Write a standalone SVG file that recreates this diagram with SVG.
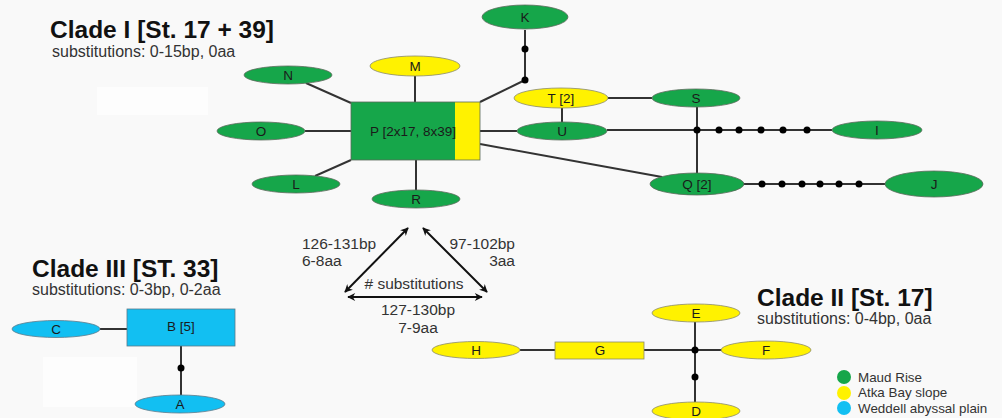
<svg xmlns="http://www.w3.org/2000/svg" width="1002" height="418" viewBox="0 0 1002 418">
<defs>
<style>
.g{fill:#16a64a;stroke:#5a6a5a;stroke-width:0.8}
.y{fill:#fff200;stroke:#8a8a6a;stroke-width:0.8}
.b{fill:#12bff2;stroke:#5a7a8a;stroke-width:0.8}
.e{stroke:#333;stroke-width:2;fill:none}
.a{stroke:#111;stroke-width:2;fill:none;marker-start:url(#ah);marker-end:url(#ah)}
.d{fill:#000}
text{font-family:"Liberation Sans",Arial,sans-serif;fill:#222}
.t{font-size:24.5px;font-weight:bold;fill:#111}
.s{font-size:16px;fill:#333}
.n{font-size:13.5px;text-anchor:middle;fill:#1a1a1a}
.l{font-size:15.5px;fill:#333}
.m{text-anchor:middle}
.r{text-anchor:end}
.lg{font-size:13.4px;fill:#333}
</style>
<marker id="ah" viewBox="0 0 10 10" refX="9" refY="5" markerWidth="10" markerHeight="8" orient="auto-start-reverse" markerUnits="userSpaceOnUse">
<path d="M0,0 L10,5 L0,10 L3,5 z" fill="#111"/>
</marker>
</defs>
<rect x="0" y="0" width="1002" height="418" fill="#f9f9f9"/>
<rect x="97" y="87" width="111" height="28" fill="#fdfdfd"/>
<rect x="43" y="357" width="94" height="50" fill="#fdfdfd"/>

<text class="t" x="50" y="38">Clade I [St. 17 + 39]</text>
<text class="s" x="52" y="57">substitutions: 0-15bp, 0aa</text>
<text class="t" x="32" y="277">Clade III [ST. 33]</text>
<text class="s" x="32" y="295">substitutions: 0-3bp, 0-2aa</text>
<text class="t" x="757" y="306">Clade II [St. 17]</text>
<text class="s" x="757" y="324">substitutions: 0-4bp, 0aa</text>

<g id="connectors">
<line class="e" x1="525" y1="30" x2="525" y2="80"/>
<line class="e" x1="525" y1="80" x2="480" y2="102"/>
<line class="e" x1="415" y1="76" x2="415" y2="102"/>
<line class="e" x1="306" y1="83" x2="351" y2="103"/>
<line class="e" x1="305" y1="131" x2="351" y2="131"/>
<line class="e" x1="315" y1="176" x2="351" y2="160"/>
<line class="e" x1="416" y1="160" x2="416" y2="190"/>
<line class="e" x1="480" y1="131" x2="517" y2="131"/>
<line class="e" x1="480" y1="144" x2="662" y2="177"/>
<line class="e" x1="608" y1="98" x2="652" y2="98"/>
<line class="e" x1="562" y1="108" x2="562" y2="122"/>
<line class="e" x1="607" y1="130" x2="832" y2="130"/>
<line class="e" x1="697" y1="107" x2="697" y2="173"/>
<line class="e" x1="743" y1="184" x2="885" y2="184"/>
<line class="e" x1="100" y1="329" x2="127" y2="329"/>
<line class="e" x1="181" y1="346" x2="181" y2="395"/>
<line class="e" x1="520" y1="350" x2="555" y2="350"/>
<line class="e" x1="644" y1="350" x2="722" y2="350"/>
<line class="e" x1="695" y1="322" x2="695" y2="403"/>
<line class="a" x1="408" y1="228" x2="345" y2="292"/>
<line class="a" x1="423" y1="228" x2="487" y2="292"/>
<line class="a" x1="348" y1="297" x2="482" y2="297"/>
</g>

<g id="dots">
<circle class="d" cx="525" cy="49" r="3.5"/>
<circle class="d" cx="525" cy="80" r="3.5"/>
<circle class="d" cx="697" cy="130" r="3.5"/>
<circle class="d" cx="719" cy="130" r="3.5"/>
<circle class="d" cx="739" cy="130" r="3.5"/>
<circle class="d" cx="761" cy="130" r="3.5"/>
<circle class="d" cx="783" cy="130" r="3.5"/>
<circle class="d" cx="807" cy="130" r="3.5"/>
<circle class="d" cx="762" cy="184" r="3.5"/>
<circle class="d" cx="782" cy="184" r="3.5"/>
<circle class="d" cx="802" cy="184" r="3.5"/>
<circle class="d" cx="820" cy="184" r="3.5"/>
<circle class="d" cx="839" cy="184" r="3.5"/>
<circle class="d" cx="859" cy="184" r="3.5"/>
<circle class="d" cx="181" cy="368" r="3.5"/>
<circle class="d" cx="695" cy="350" r="3.5"/>
<circle class="d" cx="695" cy="377" r="3.5"/>
</g>

<g id="labels">
<text class="l" x="302" y="249">126-131bp</text>
<text class="l" x="302" y="266">6-8aa</text>
<text class="l r" x="515" y="249">97-102bp</text>
<text class="l r" x="515" y="266">3aa</text>
<text class="l m" x="414" y="289"># substitutions</text>
<text class="l m" x="418" y="315">127-130bp</text>
<text class="l m" x="418" y="333">7-9aa</text>
</g>

<g id="node-K"><ellipse class="g" cx="525" cy="17" rx="43" ry="12"/><text class="n" x="525" y="22">K</text></g>
<g id="node-M"><ellipse class="y" cx="415" cy="66" rx="45" ry="10"/><text class="n" x="415" y="71">M</text></g>
<g id="node-N"><ellipse class="g" cx="288" cy="75" rx="44" ry="9"/><text class="n" x="288" y="80">N</text></g>
<g id="node-P">
<rect x="351" y="102" width="104" height="58" fill="#16a64a"/>
<rect x="455" y="102" width="25" height="58" fill="#fff200"/>
<rect x="351" y="102" width="129" height="58" fill="none" stroke="#5a6a5a" stroke-width="0.8"/>
<text class="n" x="413" y="136">P [2x17, 8x39]</text>
</g>
<g id="node-O"><ellipse class="g" cx="261" cy="131" rx="44" ry="9"/><text class="n" x="261" y="136">O</text></g>
<g id="node-L"><ellipse class="g" cx="296" cy="184" rx="44" ry="9"/><text class="n" x="296" y="189">L</text></g>
<g id="node-R"><ellipse class="g" cx="416" cy="199" rx="44" ry="9"/><text class="n" x="416" y="204">R</text></g>
<g id="node-T"><ellipse class="y" cx="561" cy="98" rx="47" ry="10"/><text class="n" x="561" y="103">T [2]</text></g>
<g id="node-S"><ellipse class="g" cx="696" cy="98" rx="44" ry="9"/><text class="n" x="696" y="103">S</text></g>
<g id="node-U"><ellipse class="g" cx="562" cy="131" rx="45" ry="9"/><text class="n" x="562" y="136">U</text></g>
<g id="node-I"><ellipse class="g" cx="877" cy="130" rx="45" ry="9"/><text class="n" x="877" y="135">I</text></g>
<g id="node-Q"><ellipse class="g" cx="697" cy="184" rx="47" ry="11"/><text class="n" x="697" y="189">Q [2]</text></g>
<g id="node-J"><ellipse class="g" cx="934" cy="184" rx="49" ry="13"/><text class="n" x="934" y="189">J</text></g>

<g id="node-B"><rect class="b" x="127" y="309" width="108" height="37"/><text class="n" x="181" y="331">B [5]</text></g>
<g id="node-C"><ellipse class="b" cx="56" cy="329" rx="44" ry="8.5"/><text class="n" x="56" y="334">C</text></g>
<g id="node-A"><ellipse class="b" cx="180" cy="404" rx="45" ry="9"/><text class="n" x="180" y="409">A</text></g>

<g id="node-H"><ellipse class="y" cx="476" cy="350" rx="44" ry="8.5"/><text class="n" x="476" y="355">H</text></g>
<g id="node-G"><rect class="y" x="555" y="342" width="89" height="17"/><text class="n" x="600" y="355">G</text></g>
<g id="node-F"><ellipse class="y" cx="766" cy="350" rx="45" ry="9"/><text class="n" x="766" y="355">F</text></g>
<g id="node-E"><ellipse class="y" cx="696" cy="313" rx="44" ry="9"/><text class="n" x="696" y="318">E</text></g>
<g id="node-D"><ellipse class="y" cx="696" cy="411" rx="44" ry="9"/><text class="n" x="696" y="416">D</text></g>

<g id="legend">
<circle cx="844" cy="377" r="7" fill="#16a64a"/>
<circle cx="844" cy="393" r="7" fill="#fff200"/>
<circle cx="844" cy="408" r="7" fill="#12bff2"/>
<text class="lg" x="858" y="382">Maud Rise</text>
<text class="lg" x="858" y="397">Atka Bay slope</text>
<text class="lg" x="858" y="413">Weddell abyssal plain</text>
</g>
</svg>
